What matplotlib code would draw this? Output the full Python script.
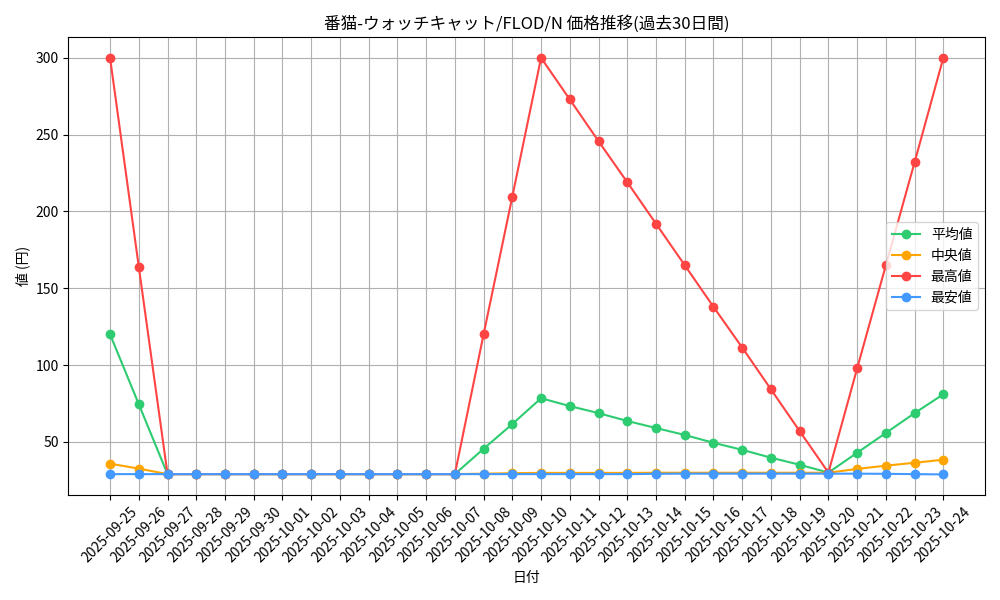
import matplotlib
matplotlib.use("Agg")
import matplotlib.pyplot as plt

plt.rcParams['font.family'] = ['Noto Sans CJK JP', 'DejaVu Sans']

dates = ["2025-09-25", "2025-09-26", "2025-09-27", "2025-09-28", "2025-09-29", "2025-09-30",
         "2025-10-01", "2025-10-02", "2025-10-03", "2025-10-04", "2025-10-05", "2025-10-06",
         "2025-10-07", "2025-10-08", "2025-10-09", "2025-10-10", "2025-10-11", "2025-10-12",
         "2025-10-13", "2025-10-14", "2025-10-15", "2025-10-16", "2025-10-17", "2025-10-18",
         "2025-10-19", "2025-10-20", "2025-10-21", "2025-10-22", "2025-10-23", "2025-10-24"]
avg = [120, 74.5, 29, 29, 29, 29, 29, 29, 29, 29, 29, 29, 29, 45.5, 61.6, 78.4, 73.3, 68.7,
       63.6, 59, 54.5, 49.4, 44.8, 39.7, 35.1, 30, 42.9, 55.8, 68.7, 81]
median = [35.8, 32.6, 29, 29, 29, 29, 29, 29, 29, 29, 29, 29, 29, 29.3, 29.6, 29.8, 29.8, 29.8,
          29.8, 29.9, 29.9, 29.9, 29.9, 29.9, 29.9, 29.9, 32.4, 34.5, 36.4, 38.4]
high = [300, 164, 29, 29, 29, 29, 29, 29, 29, 29, 29, 29, 29, 120, 209.6, 300, 272.9, 245.7,
        219, 192, 165, 137.9, 111.4, 84.2, 57, 30, 97.8, 165, 232, 300]
low = [29, 29, 29, 29, 29, 29, 29, 29, 29, 29, 29, 29, 29, 29, 29, 29, 29, 29,
       29, 29.2, 29.3, 29.3, 29.3, 29.3, 29.3, 29.3, 29.3, 29.2, 29, 28.8]

fig, ax = plt.subplots(figsize=(10, 6), dpi=100)
ax.plot(dates, avg, marker='o', color='#2ecc71', label='平均値')
ax.plot(dates, median, marker='o', color='#ffa500', label='中央値')
ax.plot(dates, high, marker='o', color='#ff4444', label='最高値')
ax.plot(dates, low, marker='o', color='#4499ff', label='最安値')
ax.set_title('番猫-ウォッチキャット/FLOD/N 価格推移(過去30日間)')
ax.set_xlabel('日付')
ax.set_ylabel('値 (円)')
ax.grid(True)
ax.legend(loc='center right')
plt.xticks(rotation=45)
plt.tight_layout()
plt.savefig('out.png')
